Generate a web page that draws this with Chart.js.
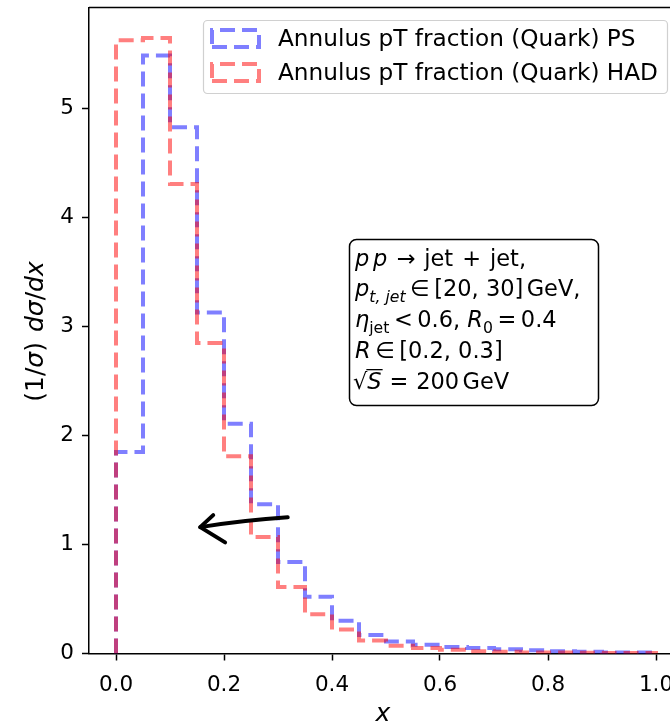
<!DOCTYPE html>
<html><head><meta charset="utf-8">
<script src="https://cdn.jsdelivr.net/npm/chart.js@4.4.1/dist/chart.umd.min.js"></script>
<style>
html,body{margin:0;padding:0;overflow:hidden;background:#fff;width:670px;height:727px}
#wrap{position:absolute;left:0;top:0;width:700px;height:727px}
</style>
</head><body><div id="wrap"><canvas id="c" width="700" height="727"></canvas></div>
<script>
// ---- data ----
const binEdges = [0.00,0.05,0.10,0.15,0.20,0.25,0.30,0.35,0.40,0.45,0.50,0.55,0.60,0.65,0.70,0.75,0.80,0.85,0.90,0.95,1.00];
const psValues  = [1.85,5.49,4.83,3.13,2.11,1.37,0.84,0.52,0.30,0.17,0.11,0.08,0.06,0.05,0.04,0.03,0.02,0.015,0.01,0.01];
const hadValues = [5.63,5.65,4.31,2.85,1.81,1.07,0.61,0.36,0.22,0.12,0.07,0.05,0.035,0.02,0.015,0.01,0.01,0.008,0.005,0.005];
const xTicks = [0.0,0.2,0.4,0.6,0.8,1.0];
const yTicks = [0,1,2,3,4,5];
const seriesLabels = ['Annulus pT fraction (Quark) PS','Annulus pT fraction (Quark) HAD'];
const seriesColors = ['rgba(0,0,255,0.5)','rgba(255,0,0,0.5)'];
const xRange = [-0.05,1.05];
const yRange = [0,5.93];
// annotation arrow (data coords): tail, tip, two arms
const arrowTail = [0.318,1.25];
const arrowTip  = [0.156,1.16];
const arrowArm1 = [0.180,1.27];
const arrowArm2 = [0.202,1.02];

const FONT = '"DejaVu Sans", "Liberation Sans", sans-serif';
const FS = 21.5;   // tick labels
const LFS = 23.2;  // legend text

function stepPoints(edges, vals){
  const pts=[{x:edges[0],y:0}];
  vals.forEach((v,i)=>{pts.push({x:edges[i],y:v});pts.push({x:edges[i+1],y:v});});
  pts.push({x:edges[edges.length-1],y:0});
  return pts;
}

function richWidth(ctx, segs, size){
  let w=0;
  for(const s of segs){
    if(s.sp){w+=s.sp*size;continue;}
    const fs = s.sub ? size*0.7 : size;
    ctx.font=(s.it?'italic ':'')+fs.toFixed(1)+'px '+FONT;
    w+=ctx.measureText(s.t).width;
  }
  return w;
}
function drawRich(ctx, x, y, segs, size){
  let cx=x;
  ctx.textBaseline='alphabetic';ctx.textAlign='left';
  for(const s of segs){
    if(s.sp){cx+=s.sp*size;continue;}
    const fs = s.sub ? size*0.7 : size;
    ctx.font = (s.it?'italic ':'') + fs.toFixed(1) + 'px ' + FONT;
    const dy = s.sub ? size*0.25 : 0;
    ctx.fillText(s.t, cx, y+dy);
    const w=ctx.measureText(s.t).width;
    if(s.over){
      ctx.save();ctx.lineWidth=1.3;ctx.strokeStyle='#000';
      ctx.beginPath();ctx.moveTo(cx-1,y-size*0.86);ctx.lineTo(cx+w+1,y-size*0.86);ctx.stroke();ctx.restore();
    }
    cx += w;
  }
  return cx;
}

const overlay = {
  id:'overlay',
  afterDatasetsDraw(chart){
    const ctx=chart.ctx, a=chart.chartArea, xs=chart.scales.x, ys=chart.scales.y;
    // top & right spines
    ctx.save();ctx.strokeStyle='#000';ctx.lineWidth=1.5;
    ctx.beginPath();ctx.moveTo(a.left,a.top);ctx.lineTo(a.right,a.top);ctx.lineTo(a.right,a.bottom);ctx.stroke();
    ctx.restore();

    // arrow
    const P=p=>[xs.getPixelForValue(p[0]),ys.getPixelForValue(p[1])];
    const t=P(arrowTail), tp=P(arrowTip), a1=P(arrowArm1), a2=P(arrowArm2);
    ctx.save();ctx.strokeStyle='#000';ctx.lineWidth=4;ctx.lineCap='round';ctx.lineJoin='round';
    ctx.beginPath();ctx.moveTo(t[0],t[1]);
    ctx.quadraticCurveTo((t[0]+tp[0])/2,(t[1]+tp[1])/2-2,tp[0],tp[1]);
    ctx.stroke();
    ctx.beginPath();ctx.moveTo(a1[0],a1[1]);ctx.lineTo(tp[0],tp[1]);ctx.lineTo(a2[0],a2[1]);ctx.stroke();
    ctx.restore();

    // info box
    ctx.save();
    ctx.fillStyle='#fff';ctx.strokeStyle='#000';ctx.lineWidth=1.5;
    ctx.beginPath();ctx.roundRect(349.5,239.5,249,166,7);ctx.fill();ctx.stroke();
    ctx.fillStyle='#000';
    const lx=355, S=22.5;
    drawRich(ctx,lx,266,[{t:'p',it:1},{sp:0.17},{t:'p',it:1},{sp:0.4},{t:'→'},{sp:0.4},{t:'jet'},{sp:0.4},{t:'+'},{sp:0.4},{t:'jet,'}],S);
    drawRich(ctx,lx,296,[{t:'p',it:1},{t:'t, jet',it:1,sub:1},{sp:0.2},{t:'∈'},{sp:0.2},{t:'[20, 30]'},{sp:0.15},{t:'GeV,'}],S);
    drawRich(ctx,lx,327,[{t:'η',it:1},{t:'jet',sub:1},{sp:0.2},{t:'<'},{sp:0.2},{t:'0.6, '},{t:'R',it:1},{t:'0',sub:1},{sp:0.2},{t:'='},{sp:0.2},{t:'0.4'}],S);
    drawRich(ctx,lx,358,[{t:'R',it:1},{sp:0.2},{t:'∈'},{sp:0.2},{t:'[0.2, 0.3]'}],S);
    drawRich(ctx,lx-2,389,[{t:'√'},{t:'S',it:1,over:1},{sp:0.35},{t:'='},{sp:0.35},{t:'200'},{sp:0.15},{t:'GeV'}],S);
    ctx.restore();

    // legend
    ctx.save();
    ctx.fillStyle='rgba(255,255,255,0.8)';ctx.strokeStyle='#d0d0d0';ctx.lineWidth=1.2;
    ctx.beginPath();ctx.roundRect(203.5,20.5,464,73,4);ctx.fill();ctx.stroke();
    const rows=[[30,47,46],[64,81,80]];
    seriesLabels.forEach((lab,i)=>{
      const r=rows[i];
      ctx.strokeStyle=seriesColors[i];ctx.lineWidth=4;ctx.setLineDash([15,7]);ctx.lineCap='butt';
      ctx.beginPath();ctx.moveTo(212,r[1]);ctx.lineTo(259,r[1]);ctx.lineTo(259,r[0]);ctx.lineTo(212,r[0]);ctx.closePath();ctx.stroke();
      ctx.setLineDash([]);
      ctx.fillStyle='#000';ctx.font=LFS+'px '+FONT;ctx.textAlign='left';ctx.textBaseline='alphabetic';
      ctx.fillText(lab,278,r[2]);
    });
    ctx.restore();

    // axis titles
    ctx.save();ctx.fillStyle='#000';
    ctx.font='italic 25px '+FONT;ctx.textAlign='center';ctx.textBaseline='alphabetic';
    ctx.fillText('x',383,721);
    ctx.translate(43,331.5);ctx.rotate(-Math.PI/2);
    const segs=[{t:'(1/'},{t:'σ',it:1},{t:')'},{sp:0.4},{t:'d',it:1},{t:'σ',it:1},{t:'/'},{t:'d',it:1},{t:'x',it:1}];
    const YS=25;
    const w=richWidth(ctx,segs,YS);
    drawRich(ctx,-w/2,0,segs,YS);
    ctx.restore();
  }
};

new Chart(document.getElementById('c'),{
  type:'scatter',
  data:{datasets:[
    {label:seriesLabels[0],data:stepPoints(binEdges,psValues),showLine:true,pointRadius:0,borderColor:seriesColors[0],borderWidth:4,borderDash:[15,7],borderCapStyle:'butt',borderJoinStyle:'miter',fill:false,order:1},
    {label:seriesLabels[1],data:stepPoints(binEdges,hadValues),showLine:true,pointRadius:0,borderColor:seriesColors[1],borderWidth:4,borderDash:[15,7],borderCapStyle:'butt',borderJoinStyle:'miter',fill:false,order:0}
  ]},
  options:{
    responsive:false,animation:false,devicePixelRatio:1,
    layout:{padding:{left:0,top:7.5,right:17,bottom:0}},
    plugins:{legend:{display:false},tooltip:{enabled:false}},
    scales:{
      x:{type:'linear',min:xRange[0],max:xRange[1],
        afterBuildTicks:s=>{s.ticks=xTicks.map(v=>({value:v}));},
        afterFit:s=>{s.height=73.5;s.paddingLeft=0;s.paddingRight=0;},
        grid:{drawOnChartArea:false,drawTicks:true,tickLength:7,tickColor:'#000',tickWidth:1.5},
        border:{display:true,color:'#000',width:1.5},
        ticks:{color:'#000',font:{family:FONT,size:FS},padding:12,maxRotation:0,autoSkip:false,callback:v=>v.toFixed(1)}},
      y:{type:'linear',min:yRange[0],max:yRange[1],
        afterBuildTicks:s=>{s.ticks=yTicks.map(v=>({value:v}));},
        afterFit:s=>{s.width=89;s.paddingTop=0;s.paddingBottom=0;},
        grid:{drawOnChartArea:false,drawTicks:true,tickLength:7,tickColor:'#000',tickWidth:1.5},
        border:{display:true,color:'#000',width:1.5},
        ticks:{color:'#000',font:{family:FONT,size:FS},padding:8,autoSkip:false,callback:v=>String(v)}}
    }
  },
  plugins:[overlay]
});
</script></body></html>
